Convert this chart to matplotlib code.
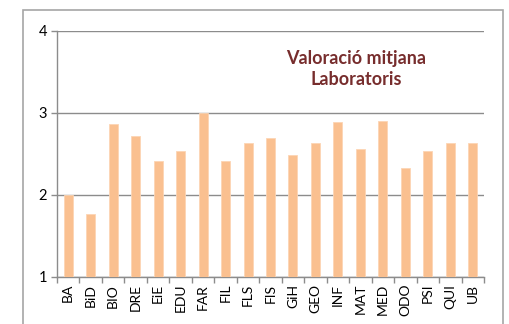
import matplotlib.pyplot as plt
import numpy as np
from matplotlib.patches import Rectangle

plt.rcParams['font.family'] = ['Lato', 'DejaVu Sans']

# mitjana de valoració dels laboratoris per centre
centres = ['BA', 'BiD', 'BIO', 'DRE', 'EiE', 'EDU', 'FAR', 'FIL', 'FLS', 'FIS',
           'GiH', 'GEO', 'INF', 'MAT', 'MED', 'ODO', 'PSI', 'QUI', 'UB']
valoracio = [2.00, 1.77, 2.87, 2.72, 2.41, 2.54, 3.00, 2.41, 2.63, 2.69,
             2.49, 2.63, 2.89, 2.56, 2.90, 2.33, 2.54, 2.63, 2.64]

W, H = 510, 324
fig = plt.figure(figsize=(W / 100, H / 100), dpi=100)
ax = fig.add_axes([57 / W, 1 - 277 / H, (484 - 57) / W, (277 - 31) / H])

x = np.arange(len(centres))
ax.bar(x, np.array(valoracio) - 1, bottom=1, width=0.4,
       color='#FAC090', edgecolor='#FCD5B4', linewidth=0.6, zorder=3)

ax.set_ylim(1, 4)
ax.set_xlim(-0.5, len(centres) - 0.5)
ax.set_yticks([1, 2, 3, 4])
ax.yaxis.grid(True, color='#8C8C8C', linewidth=1.0)
ax.set_axisbelow(True)

ax.set_xticks(x)
ax.set_xticklabels(centres, rotation=90, fontsize=10)
ax.set_xticks(np.arange(len(centres) + 1) - 0.5, minor=True)
ax.tick_params(axis='x', which='major', length=0, pad=5)
ax.tick_params(axis='x', which='minor', length=4, color='#8C8C8C', width=1)
ax.tick_params(axis='y', length=4, color='#8C8C8C', width=1, labelsize=10.5, pad=3)

for s in ['top', 'right']:
    ax.spines[s].set_visible(False)
for s in ['left', 'bottom']:
    ax.spines[s].set_color('#8C8C8C')
    ax.spines[s].set_linewidth(1.0)

ax.text(0.70, 0.845, 'Valoració mitjana\nLaboratoris', transform=ax.transAxes,
        ha='center', va='center', fontsize=13, fontweight='bold',
        color='#772D2D', linespacing=1.3)

# marc exterior del gràfic
fig.patches.append(Rectangle((23 / W, -0.1), (503 - 23) / W, 1.1 - 10 / H,
                             transform=fig.transFigure, fill=False,
                             edgecolor='#A6A6A6', linewidth=1.2))

fig.savefig('out.png', dpi=100)
